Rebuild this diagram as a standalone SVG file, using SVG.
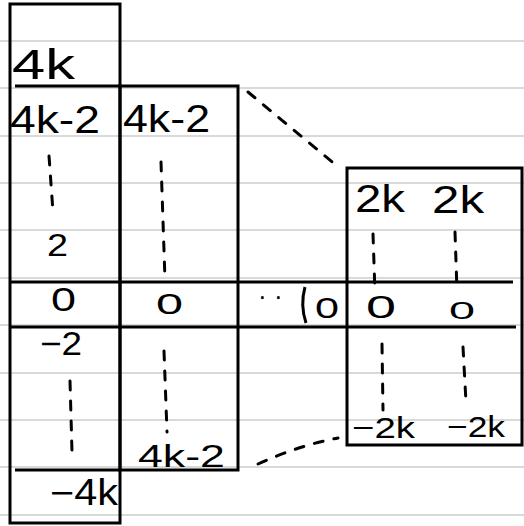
<svg xmlns="http://www.w3.org/2000/svg" width="524" height="526" viewBox="0 0 524 526">
<style>
.rule{stroke:#d9d9d9;stroke-width:2}
.box{fill:none;stroke:#000;stroke-width:3}
.dash{fill:none;stroke:#000;stroke-width:3;stroke-dasharray:9 11;stroke-linecap:round}
text{font-family:"Liberation Sans","DejaVu Sans",sans-serif;fill:#000}
</style>
<rect width="524" height="526" fill="#fff"/>
<g id="ruled-lines">
<line class="rule" x1="0" y1="41" x2="524" y2="41"/>
<line class="rule" x1="0" y1="88" x2="524" y2="88"/>
<line class="rule" x1="0" y1="136" x2="524" y2="136"/>
<line class="rule" x1="0" y1="183" x2="524" y2="183"/>
<line class="rule" x1="0" y1="230" x2="524" y2="230"/>
<line class="rule" x1="0" y1="278" x2="524" y2="278"/>
<line class="rule" x1="0" y1="325" x2="524" y2="325"/>
<line class="rule" x1="0" y1="373" x2="524" y2="373"/>
<line class="rule" x1="0" y1="420" x2="524" y2="420"/>
<line class="rule" x1="0" y1="467" x2="524" y2="467"/>
<line class="rule" x1="0" y1="515" x2="524" y2="515"/>
</g>
<g id="column-4k">
<rect class="box" x="10" y="4" width="110" height="519"/>
<text x="12" y="79" font-size="42" textLength="63" lengthAdjust="spacingAndGlyphs">4k</text>
<text x="10" y="133" font-size="38" textLength="90" lengthAdjust="spacingAndGlyphs">4k-2</text>
<line class="dash" x1="49" y1="156" x2="53" y2="212"/>
<text x="47" y="256" font-size="32" textLength="21" lengthAdjust="spacingAndGlyphs">2</text>
<text x="51" y="311" font-size="33" textLength="25" lengthAdjust="spacingAndGlyphs">0</text>
<text x="40" y="355" font-size="33" textLength="42" lengthAdjust="spacingAndGlyphs">−2</text>
<line class="dash" x1="70" y1="381" x2="72" y2="452"/>
<text x="50" y="505" font-size="36" textLength="68" lengthAdjust="spacingAndGlyphs">−4k</text>
</g>
<g id="column-4k-2">
<rect class="box" x="120" y="86" width="118" height="384"/>
<line class="box" x1="15" y1="86" x2="120" y2="86"/>
<line class="box" x1="15" y1="470" x2="120" y2="470"/>
<text x="123" y="132" font-size="38" textLength="87" lengthAdjust="spacingAndGlyphs">4k-2</text>
<line class="dash" x1="161" y1="162" x2="165" y2="280"/>
<text x="156" y="314" font-size="30" textLength="27" lengthAdjust="spacingAndGlyphs">0</text>
<line class="dash" x1="164" y1="351" x2="167" y2="432"/>
<text x="138" y="467" font-size="31" textLength="87" lengthAdjust="spacingAndGlyphs">4k-2</text>
</g>
<g id="zero-row">
<line class="box" x1="10" y1="282" x2="513" y2="282"/>
<line class="box" x1="10" y1="327" x2="516" y2="327"/>
<text x="258" y="305" font-size="26">· ·</text>
<path class="box" d="M305 287 Q300 305 306 323"/>
<text x="315" y="318" font-size="30" textLength="24" lengthAdjust="spacingAndGlyphs">0</text>
</g>
<g id="column-2k">
<rect class="box" x="347" y="168" width="175" height="277"/>
<text x="355" y="212" font-size="38" textLength="50" lengthAdjust="spacingAndGlyphs">2k</text>
<text x="432" y="213" font-size="38" textLength="52" lengthAdjust="spacingAndGlyphs">2k</text>
<line class="dash" x1="373" y1="234" x2="375" y2="293"/>
<line class="dash" x1="455" y1="232" x2="457" y2="291"/>
<text x="366" y="318" font-size="32" textLength="30" lengthAdjust="spacingAndGlyphs">0</text>
<text x="449" y="319" font-size="23" textLength="26" lengthAdjust="spacingAndGlyphs">0</text>
<line class="dash" x1="382" y1="344" x2="383" y2="410"/>
<line class="dash" x1="463" y1="347" x2="466" y2="402"/>
<text x="352" y="438" font-size="30" textLength="63" lengthAdjust="spacingAndGlyphs">−2k</text>
<text x="447" y="437" font-size="30" textLength="58" lengthAdjust="spacingAndGlyphs">−2k</text>
</g>
<g id="connectors">
<path class="dash" d="M248 92 L337 166"/>
<path class="dash" d="M258 464 Q300 445 338 438"/>
</g>
</svg>
